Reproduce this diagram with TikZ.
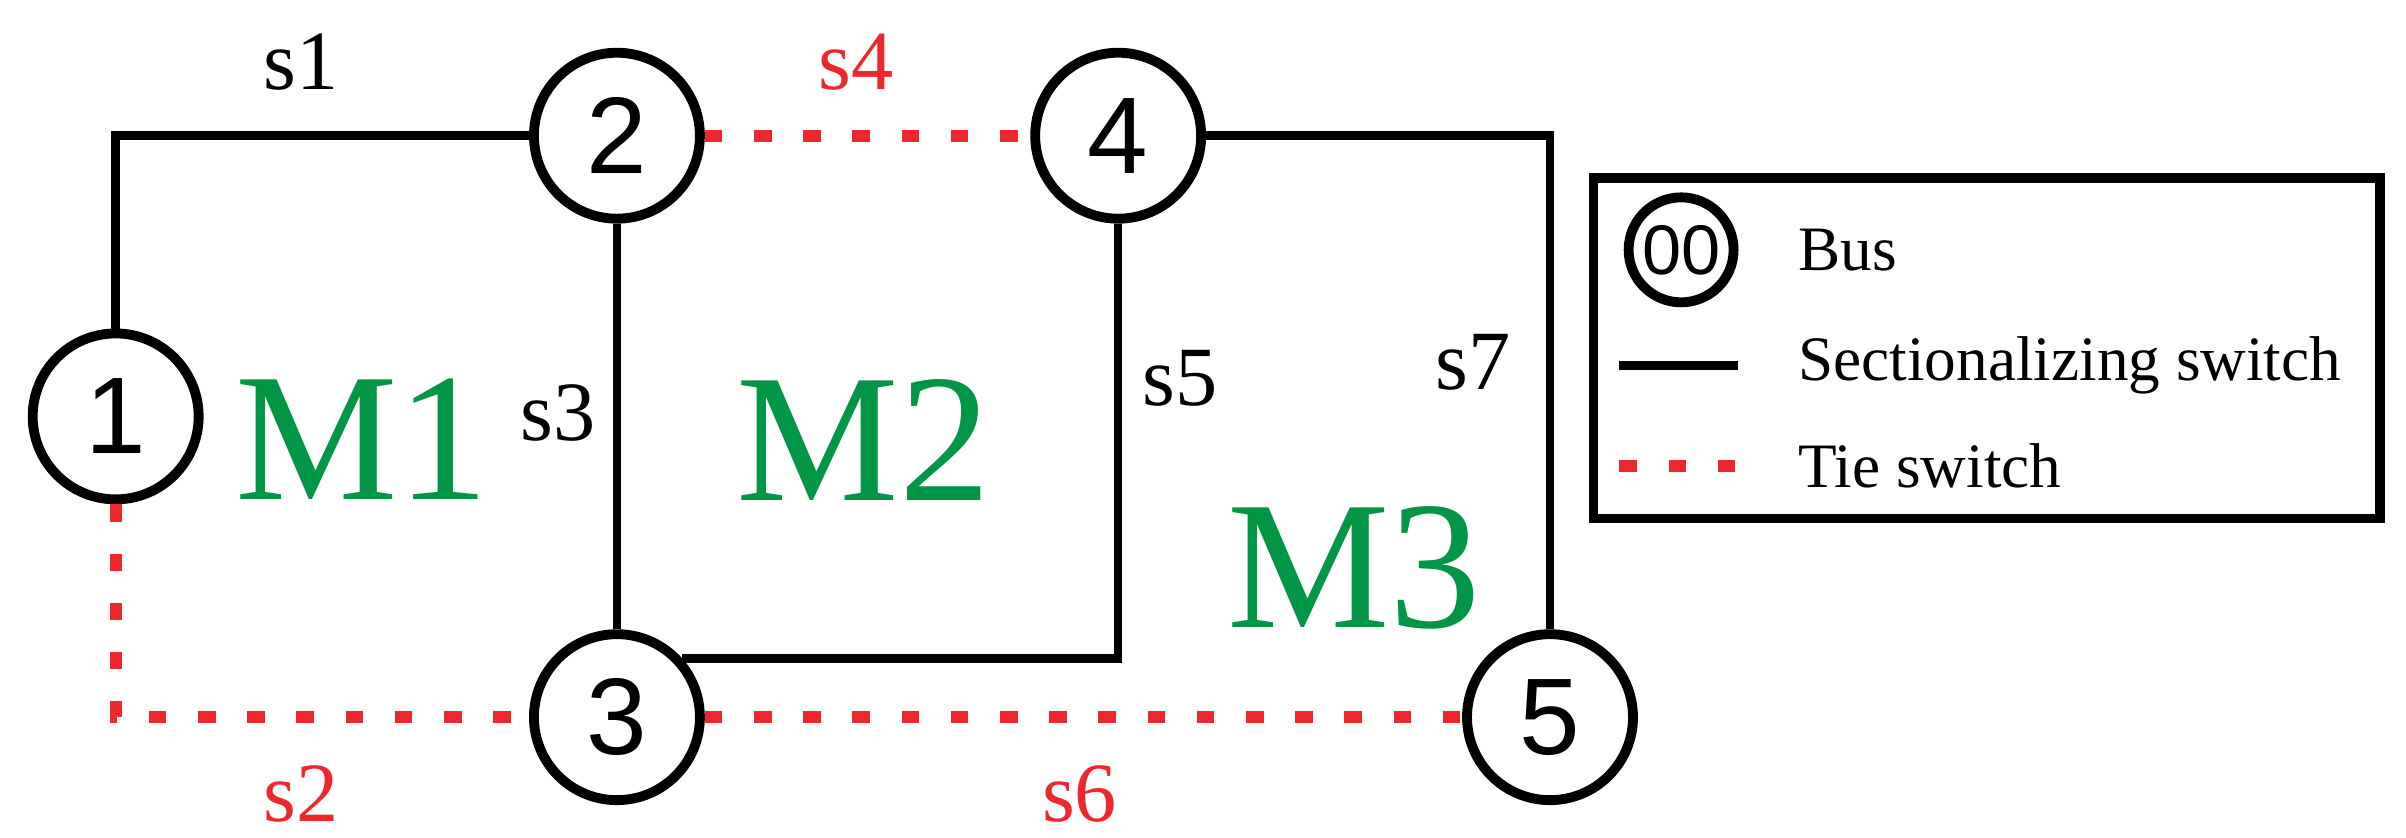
\documentclass[tikz,border=0pt]{standalone}
\usepackage{fontspec}
\setmainfont{Liberation Serif}
\newfontfamily\numfont{Liberation Sans}
\definecolor{tred}{RGB}{237,40,45}
\definecolor{mgreen}{RGB}{0,150,70}
\begin{document}
\begin{tikzpicture}[x=0.01542cm,y=-0.01542cm,
  bus/.style={circle,draw,line width=2.8pt,minimum size=1.66cm,inner sep=0pt,font=\numfont\fontsize{31}{33}\selectfont},
  sect/.style={line width=2.4pt},
  tie/.style={line width=3.4pt,tred,dash pattern=on 5pt off 9pt},
  lab/.style={font=\fontsize{24}{26}\selectfont},
  mlab/.style={font=\fontsize{52}{56}\selectfont,mgreen},
  leg/.style={font=\fontsize{18}{21}\selectfont,anchor=west}]
\useasboundingbox (0,0) rectangle (1560,543);
\node[bus] (n1) at (75,270) {1};
\node[bus] (n2) at (400,88) {2};
\node[bus] (n3) at (400,465) {3};
\node[bus] (n4) at (725,88) {4};
\node[bus] (n5) at (1005,465) {5};
\coordinate (c1) at (75,88);
\coordinate (c2) at (75,465);
\draw[sect] (n1.north) -- (c1) -- (n2.west);
\draw[sect] (n2.south) -- (n3.north);
\draw[sect] (n4.south) |- (n3.42);
\draw[sect] (n4.east) -| (n5.north);
\draw[tie] (n2.east) -- (n4.west);
\draw[tie] (n1.south) -- (c2) -- (n3.west);
\draw[tie] (n3.east) -- (n5.west);
\node[lab] (s1) at (195,40) {s1};
\node[lab,tred] (s4) at (555,40) {s4};
\node[lab] (s3) at (362,268) {s3};
\node[lab] (s5) at (765,245) {s5};
\node[lab] (s7) at (955,235) {s7};
\node[lab,tred] (s2) at (195,515) {s2};
\node[lab,tred] (s6) at (700,515) {s6};
\node[mlab] (m1) at (235,285) {M1};
\node[mlab] (m2) at (560,285) {M2};
\node[mlab] (m3) at (878,368) {M3};
\node[draw,line width=2.8pt,minimum width=510*0.01542cm,minimum height=221*0.01542cm,anchor=north west] (box) at (1030,112) {};
\node[circle,draw,line width=2.8pt,minimum size=1.05cm,inner sep=0pt,font=\numfont\fontsize{20}{22}\selectfont] (lb) at (1090,162) {00};
\node[leg] (tb) at (1158,162) {Bus};
\coordinate (ls1) at (1050,237); \coordinate (ls2) at (1127,237);
\draw[sect] (ls1) -- (ls2);
\node[leg] (ts) at (1158,237) {Sectionalizing switch};
\coordinate (lt1) at (1050,302); \coordinate (lt2) at (1127,302);
\draw[tie] (lt1) -- (lt2);
\node[leg] (tt) at (1158,302) {Tie switch};
\end{tikzpicture}
\end{document}
